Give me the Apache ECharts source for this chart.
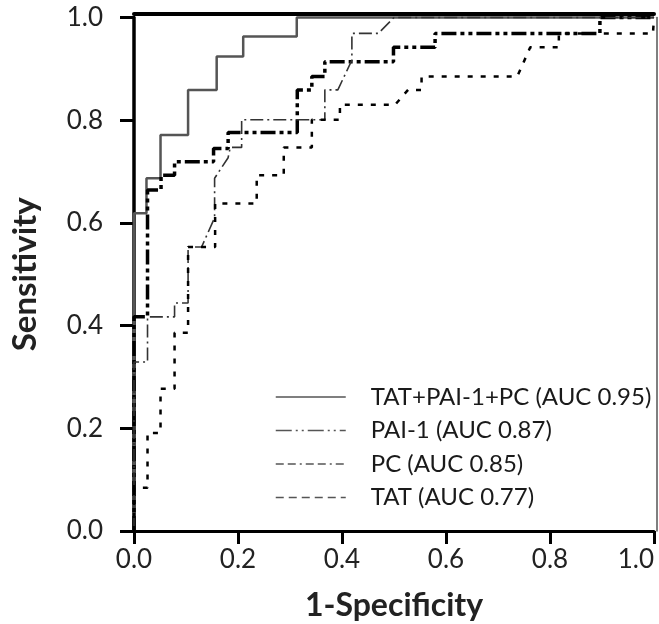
<!DOCTYPE html>
<html><head><meta charset="utf-8">
<script src="https://cdn.jsdelivr.net/npm/echarts@6/dist/echarts.min.js"></script>
<style>html,body{margin:0;padding:0;background:#fff}#c{width:659px;height:624px}</style>
</head><body><div id="c"></div>
<script>
// Tick labels
const xTickLabels = ['0.0','0.2','0.4','0.6','0.8','1.0'];
const yTickLabels = ['0.0','0.2','0.4','0.6','0.8','1.0'];
const seriesNames = ['TAT+PAI-1+PC (AUC 0.95)','PAI-1 (AUC 0.87)','PC (AUC 0.85)','TAT (AUC 0.77)'];

// TAT+PAI-1+PC
const combFPR  = [0, 0,     0.024, 0.024, 0.051, 0.051, 0.104, 0.104, 0.159, 0.159, 0.21,  0.21,  0.313, 0.313, 1];
const combSens = [0, 0.619, 0.619, 0.687, 0.687, 0.771, 0.771, 0.859, 0.859, 0.924, 0.924, 0.963, 0.963, 1,     1];

// PAI-1
const paiFPR  = [0, 0,     0.026, 0.026, 0.052, 0.052, 0.078, 0.078, 0.153, 0.153, 0.181, 0.181, 0.314, 0.314, 0.342, 0.342, 0.367, 0.367, 0.499, 0.499, 0.579, 0.579, 0.896, 0.896, 1];
const paiSens = [0, 0.417, 0.417, 0.664, 0.664, 0.693, 0.693, 0.719, 0.719, 0.745, 0.745, 0.776, 0.776, 0.859, 0.859, 0.885, 0.885, 0.914, 0.914, 0.942, 0.942, 0.969, 0.969, 1,     1];

// PC
const pcFPR  = [0, 0,     0.026, 0.026, 0.078, 0.078, 0.104, 0.104, 0.13,  0.155, 0.155, 0.181, 0.185, 0.207, 0.207, 0.367, 0.367, 0.392, 0.419, 0.419, 0.47,  0.5, 1];
const pcSens = [0, 0.329, 0.329, 0.417, 0.417, 0.444, 0.444, 0.553, 0.553, 0.61,  0.687, 0.727, 0.747, 0.747, 0.801, 0.801, 0.859, 0.859, 0.917, 0.969, 0.969, 1,   1];

// TAT
const tatFPR  = [0, 0,     0.026, 0.026, 0.051, 0.051, 0.078, 0.078, 0.104, 0.104, 0.156, 0.156, 0.236, 0.236, 0.288, 0.288, 0.342, 0.342, 0.396, 0.396, 0.502, 0.527, 0.553, 0.553, 0.737, 0.762, 0.817, 0.817, 0.998, 1];
const tatSens = [0, 0.084, 0.084, 0.191, 0.191, 0.277, 0.277, 0.386, 0.386, 0.553, 0.553, 0.638, 0.638, 0.693, 0.693, 0.747, 0.747, 0.801, 0.801, 0.83,  0.83,  0.859, 0.859, 0.885, 0.885, 0.942, 0.942, 0.969, 0.969, 1];

const zip = (a, b) => a.map((v, i) => [v, b[i]]);
const FONT = 'Lato';
const chart = echarts.init(document.getElementById('c'), null, {renderer: 'canvas'});

const styles = [
  {color: '#555', width: 2.5, type: 'solid'},
  {color: '#000', width: 3.5, type: [15, 4, 4, 4, 4, 4]},
  {color: '#333', width: 1.6, type: [13, 4, 2, 4]},
  {color: '#000', width: 2.5, type: [5, 8]}
];
const legendStyles = [
  {color: '#555', width: 1.5, type: 'solid'},
  {color: '#555', width: 1.5, type: [16, 4, 2, 4, 2, 4]},
  {color: '#555', width: 1.5, type: [8, 4, 8, 4, 2, 4]},
  {color: '#555', width: 1.5, type: [8, 5]}
];
const datasets = [zip(combFPR, combSens), zip(paiFPR, paiSens), zip(pcFPR, pcSens), zip(tatFPR, tatSens)];

const baseAxisHidden = {
  type: 'value', min: 0, max: 1, interval: 0.2,
  axisTick: {show: false}, axisLabel: {show: false}, splitLine: {show: false}
};

chart.setOption({
  animation: false,
  backgroundColor: '#fff',
  grid: {left: 134, right: 5, top: 17.5, bottom: 93, containLabel: false, outerBoundsMode: 'none'},
  legend: {
    orient: 'vertical', left: 270, top: 377,
    itemWidth: 70, itemHeight: 14, itemGap: 3.5,
    textStyle: {fontSize: 24, fontFamily: FONT, color: '#1a1a1a', lineHeight: 30, padding: [0, 0, 0, 20]},
    data: seriesNames.map((n, i) => ({name: n, lineStyle: legendStyles[i], itemStyle: {opacity: 0}}))
  },
  xAxis: [
    {
      type: 'value', min: 0, max: 1, interval: 0.2, position: 'bottom',
      axisLine: {show: true, onZero: false, lineStyle: {color: '#000', width: 3}},
      axisTick: {show: true, length: 13, lineStyle: {color: '#000', width: 3}},
      axisLabel: {formatter: v => xTickLabels[Math.round(v / 0.2)], fontSize: 26, fontFamily: FONT, color: '#222', margin: 16, showMinLabel: true, showMaxLabel: true, alignMaxLabel: 'right'},
      splitLine: {show: false},
      name: '1-Specificity', nameLocation: 'middle', nameGap: 59,
      nameTextStyle: {fontSize: 32, fontWeight: 'bold', fontFamily: FONT, color: '#222'}
    },
    Object.assign({}, baseAxisHidden, {position: 'top', offset: 3.5,
      axisLine: {show: true, onZero: false, lineStyle: {color: '#000', width: 4}}})
  ],
  yAxis: [
    {
      type: 'value', min: 0, max: 1, interval: 0.2, position: 'left',
      axisLine: {show: true, onZero: false, lineStyle: {color: '#000', width: 3.5}},
      axisTick: {show: true, length: 14, lineStyle: {color: '#000', width: 3}},
      axisLabel: {formatter: v => yTickLabels[Math.round(v / 0.2)], fontSize: 26, fontFamily: FONT, color: '#222', margin: 31, showMinLabel: true, showMaxLabel: true},
      splitLine: {show: false},
      name: 'Sensitivity', nameLocation: 'middle', nameGap: 92,
      nameTextStyle: {fontSize: 33, fontWeight: 'bold', fontFamily: FONT, color: '#222'}
    },
    Object.assign({}, baseAxisHidden, {position: 'right', offset: 2.5,
      axisLine: {show: true, onZero: false, lineStyle: {color: '#555', width: 1.5}}})
  ],
  series: seriesNames.map((n, i) => ({
    name: n, type: 'line', data: datasets[i], symbol: 'none', showSymbol: false,
    lineStyle: styles[i], xAxisIndex: 0, yAxisIndex: 0, z: 3 + i,
    clip: false
  }))
});
</script></body></html>
